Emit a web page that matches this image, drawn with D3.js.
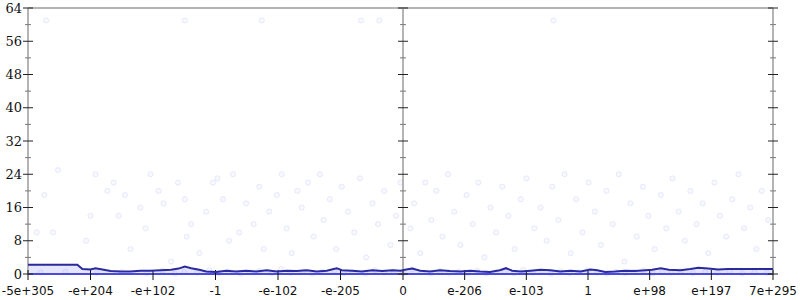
<!DOCTYPE html>
<html>
<head>
<meta charset="utf-8">
<script src="https://cdn.jsdelivr.net/npm/d3@7"></script>
<style>
  body { margin: 0; background: #fff; }
  svg { display: block; }
</style>
</head>
<body>
<div id="chart"></div>
<script>
// tick labels along x (evenly spaced positions, 100 units apart)
const xTickLabels = ['-5e+305', '-e+204', '-e+102', '-1', '-e-102', '-e-205', '0',
  'e-206', 'e-103', '1', 'e+98', 'e+197', '7e+295'];
const xTickPos = [0, 100, 200, 300, 400, 500, 600, 700, 800, 900, 1000, 1100, 1200];
const yMajor = [0, 8, 16, 24, 32, 40, 48, 56, 64];
const yMinor = [4, 12, 20, 28, 36, 44, 52, 60];

// main line (position, value)
const lineX = [0, 79, 87, 100, 108, 119, 132, 148, 164, 180, 196, 212, 229, 241, 251, 261, 274, 285,
  301, 317, 333, 349, 365, 382, 398, 414, 430, 446, 462, 478, 494, 502, 518, 534, 551, 567, 583, 596,
  603, 615, 628, 644, 660, 676, 693, 709, 725, 741, 757, 767, 777, 791, 807, 823, 839, 855, 872, 888,
  904, 915, 928, 944, 960, 976, 993, 1004, 1018, 1031, 1050, 1066, 1079, 1095, 1111, 1127, 1200];
const lineY = [2.2, 2.2, 1.2, 1.1, 1.4, 1.1, 0.7, 0.6, 0.6, 0.8, 0.8, 0.9, 1.0, 1.3, 1.8, 1.4, 1.0, 0.6,
  0.5, 0.8, 0.6, 0.8, 0.6, 0.9, 0.6, 0.8, 0.7, 0.9, 0.6, 0.8, 1.4, 0.9, 0.8, 0.6, 0.9, 0.7, 0.9, 0.8,
  1.0, 1.3, 0.8, 0.6, 0.9, 0.7, 0.6, 0.8, 0.6, 0.5, 0.9, 1.4, 0.8, 0.6, 0.8, 1.0, 0.9, 0.6, 0.8, 0.6,
  1.1, 0.9, 0.5, 0.6, 0.8, 0.7, 0.9, 1.0, 1.4, 1.0, 0.9, 1.2, 1.5, 1.3, 1.1, 1.2, 1.2];

// scattered samples
const dotX = [14, 26, 40, 48, 93, 100, 108, 127, 137, 145, 155, 164, 180, 188, 196,
  209, 217, 229, 240, 251, 254, 261, 274, 285, 296, 303, 312, 322, 328, 338, 349, 361, 370, 377, 386, 398, 406,
  414, 422, 431, 438, 448, 457, 467, 473, 483, 493, 502, 512, 522, 531, 541, 551, 560, 570, 580, 589, 596,
  612, 618, 628, 636, 646, 654, 664, 673, 683, 693, 703, 713, 722, 732, 742, 751, 761, 771, 781, 791, 800,
  813, 823, 833, 842, 852, 862, 872, 881, 891, 901, 911, 921, 930, 940, 950, 959, 969, 979, 989, 998,
  1008, 1018, 1027, 1037, 1047, 1057, 1066, 1076, 1086, 1095, 1105, 1114, 1124, 1134, 1144, 1153, 1163, 1173, 1182, 1192,
  29, 251, 374, 533, 562, 844];
const dotY = [10, 19, 10, 25, 8, 14, 24, 20, 22, 14, 19, 6, 16, 11, 24,
  20, 17, 3, 22, 18, 9, 12, 5, 15, 22, 23, 18, 8, 24, 10, 17, 12, 21, 6, 15, 19, 24,
  11, 5, 20, 16, 22, 9, 24, 13, 18, 6, 21, 15, 10, 23, 4, 17, 12, 20, 7, 14, 22,
  11, 17, 5, 22, 13, 20, 9, 24, 15, 7, 19, 12, 22, 4, 16, 10, 21, 14, 6, 18, 23,
  11, 16, 8, 21, 13, 24, 5, 18, 10, 22, 15, 7, 20, 12, 24, 3, 17, 9, 21, 14,
  6, 19, 11, 23, 15, 8, 20, 12, 17, 5, 22, 14, 9, 18, 24, 11, 16, 6, 20, 13,
  61, 61, 61, 61, 61, 61];

// dense samples near zero
const lowX = [20, 60, 110, 150, 190, 215, 235, 250, 270, 290, 305, 320, 340, 355, 370, 390, 405, 420, 440,
  455, 470, 490, 505, 520, 540, 555, 570, 585, 600, 615, 630, 645, 660, 675, 690, 705, 720, 735, 750, 765,
  780, 795, 810, 825, 840, 855, 870, 885, 900, 915, 930, 945, 960, 975, 990, 1005, 1020, 1035, 1050, 1070,
  1090, 1110, 1130, 1150, 1170, 1190];
const lowY = [0.4, 0.6, 0.3, 0.5, 0.2, 0.8, 0.1, 0.5, 0.3, 0.9, 0.2, 0.6, 0.1, 0.4, 0.7, 0.2, 1.2, 0.3, 0.6,
  0.1, 0.5, 0.8, 0.2, 0.4, 0.1, 0.9, 0.3, 0.6, 0.2, 1.1, 0.4, 0.1, 0.7, 0.3, 0.5, 0.2, 0.8, 0.1, 0.4, 0.6,
  0.2, 1.0, 0.3, 0.5, 0.1, 0.7, 0.2, 0.4, 0.9, 0.3, 0.1, 0.6, 0.2, 0.5, 0.8, 0.1, 0.4, 0.3, 0.7, 0.2,
  0.5, 0.3, 0.6, 0.2, 0.4, 0.3];

var margin = {top: 8, right: 27, bottom: 26, left: 28},
  width = 800,
  height = 300;

var svg = d3.select("#chart")
  .append("svg")
  .attr("width", width)
  .attr("height", height);

var x = d3.scaleLinear()
  .domain([0, 600, 1200])
  .range([margin.left, 403, width - margin.right]);

var y = d3.scaleLinear()
  .domain([0, 64])
  .range([height - margin.bottom, margin.top]);

const axisGrey = "#b4b4b4";
const dotFill = "rgba(120,120,255,0.05)";
const dotStroke = "rgba(110,110,240,0.13)";

// band under the line
var lineData = lineX.map((d, i) => ({x: d, y: lineY[i]}));

svg.append("path")
  .datum(lineData)
  .attr("fill", "rgba(110,110,255,0.18)")
  .attr("d", d3.area()
    .x((d) => x(d.x))
    .y0(y(0))
    .y1((d) => y(d.y)));

// scatter dots
var allDots = dotX.map((d, i) => ({x: d, y: dotY[i]}))
  .concat(lowX.map((d, i) => ({x: d, y: lowY[i]})));

svg.selectAll("circle.dot")
  .data(allDots)
  .enter()
  .append("circle")
  .attr("class", "dot")
  .attr("cx", (d) => x(d.x))
  .attr("cy", (d) => y(d.y))
  .attr("r", 2.6)
  .style("fill", dotFill)
  .style("stroke", dotStroke)
  .style("stroke-width", 1);

// frame lines
svg.append("line")
  .attr("x1", x(0)).attr("x2", x(1200))
  .attr("y1", y(64)).attr("y2", y(64))
  .style("stroke", axisGrey).style("stroke-width", 2);

svg.append("line")
  .attr("x1", x(0)).attr("x2", x(1200))
  .attr("y1", y(0)).attr("y2", y(0))
  .style("stroke", "#4a4ae0").style("stroke-width", 2);

// vertical axes at left, middle and right
[0, 600, 1200].forEach((pos) => {
  var g = svg.append("g");
  var cx = x(pos);
  g.append("line")
    .attr("x1", cx).attr("x2", cx)
    .attr("y1", y(64)).attr("y2", y(0))
    .style("stroke", axisGrey).style("stroke-width", 2);
  g.selectAll("line.major")
    .data(yMajor)
    .enter()
    .append("line")
    .attr("x1", cx - 5).attr("x2", cx + 5)
    .attr("y1", (d) => y(d)).attr("y2", (d) => y(d))
    .style("stroke", "#222").style("stroke-width", 1);
  g.selectAll("line.minor")
    .data(yMinor)
    .enter()
    .append("line")
    .attr("x1", cx - 3).attr("x2", cx + 3)
    .attr("y1", (d) => y(d)).attr("y2", (d) => y(d))
    .style("stroke", "#777").style("stroke-width", 1);
});

// y labels
svg.selectAll("text.ylab")
  .data(yMajor)
  .enter()
  .append("text")
  .attr("x", 22)
  .attr("y", (d) => y(d))
  .attr("dy", "0.35em")
  .attr("text-anchor", "end")
  .style("font-family", "'DejaVu Serif', 'Liberation Serif', serif")
  .style("font-size", "13px")
  .style("fill", "#111")
  .text((d) => d);

// x ticks and labels
svg.selectAll("line.xt")
  .data(xTickPos)
  .enter()
  .append("line")
  .attr("x1", (d) => x(d)).attr("x2", (d) => x(d))
  .attr("y1", y(0) - 4).attr("y2", y(0) + 6)
  .style("stroke", "#111").style("stroke-width", 1);

svg.selectAll("text.xlab")
  .data(xTickPos)
  .enter()
  .append("text")
  .attr("x", (d) => x(d))
  .attr("y", 295)
  .attr("text-anchor", "middle")
  .style("font-family", "'DejaVu Sans', sans-serif")
  .style("font-size", "12px")
  .style("fill", "#111")
  .text((d, i) => xTickLabels[i]);

// main line
svg.append("path")
  .datum(lineData)
  .attr("fill", "none")
  .attr("stroke", "#2a2a9c")
  .attr("stroke-width", 2)
  .attr("d", d3.line()
    .x((d) => x(d.x))
    .y((d) => y(d.y)));
</script>
</body>
</html>
